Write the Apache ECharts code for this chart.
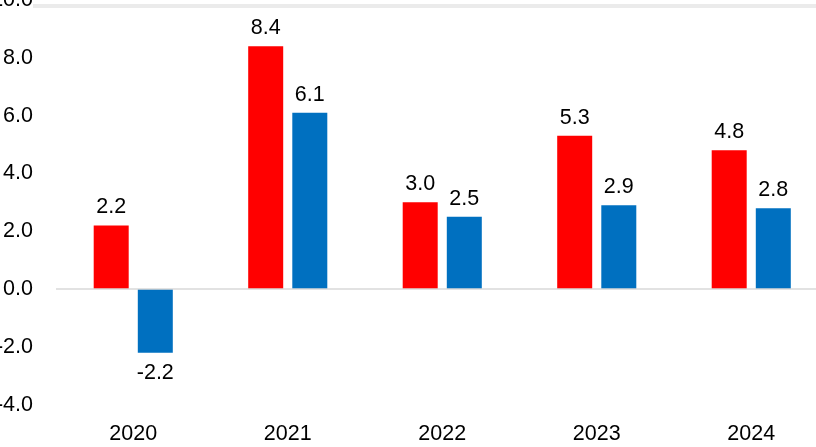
<!DOCTYPE html>
<html>
<head>
<meta charset="utf-8">
<script src="https://cdn.jsdelivr.net/npm/echarts@6/dist/echarts.min.js"></script>
<style>
html,body{margin:0;padding:0;background:#fff;}
#chart{width:816px;height:447px;}
</style>
</head>
<body>
<div id="chart"></div>
<script>
const categories = ['2020', '2021', '2022', '2023', '2024'];
const redValues = [2.2, 8.4, 3.0, 5.3, 4.8];
const blueValues = [-2.2, 6.1, 2.5, 2.9, 2.8];
const yMin = -4, yMax = 10, yStep = 2;

const FONT = 'Liberation Sans, Arial, sans-serif';
function withLabels(arr) {
  return arr.map(v => ({
    value: v,
    label: { position: v < 0 ? 'bottom' : 'top', distance: v < 0 ? 9 : 7 }
  }));
}
const labelStyle = {
  show: true,
  fontSize: 21.5,
  fontFamily: FONT,
  color: '#000',
  formatter: p => p.value.toFixed(1)
};

const chart = echarts.init(document.getElementById('chart'), null, { renderer: 'canvas' });
chart.setOption({
  animation: false,
  backgroundColor: '#fff',
  grid: { left: 56, top: 0, width: 772.5, bottom: 42.3, containLabel: false, outerBoundsMode: 'none' },
  xAxis: {
    type: 'category',
    data: categories,
    axisLine: { show: false, onZero: false },
    axisTick: { show: false },
    axisLabel: { margin: 18, fontSize: 21.5, fontFamily: FONT, color: '#000' }
  },
  yAxis: {
    type: 'value',
    min: yMin, max: yMax, interval: yStep,
    axisLine: { show: false },
    axisTick: { show: false },
    splitLine: { show: false },
    axisLabel: { margin: 23, fontSize: 21.5, fontFamily: FONT, color: '#000', formatter: v => v.toFixed(1) }
  },
  graphic: [{
    type: 'rect',
    shape: { x: 33, y: 4, width: 800, height: 4 },
    style: { fill: '#ebebeb' },
    silent: true
  }],
  series: [{
    type: 'bar',
    data: withLabels(redValues),
    barWidth: 35,
    barGap: '26%',
    itemStyle: { color: '#FF0000' },
    label: labelStyle,
    markLine: {
      silent: true,
      symbol: 'none',
      label: { show: false },
      lineStyle: { color: '#d9d9d9', width: 1.5, type: 'solid' },
      data: [{ yAxis: 0 }]
    }
  }, {
    type: 'bar',
    data: withLabels(blueValues),
    barWidth: 35,
    itemStyle: { color: '#0070C0' },
    label: labelStyle
  }]
});
</script>
</body>
</html>
